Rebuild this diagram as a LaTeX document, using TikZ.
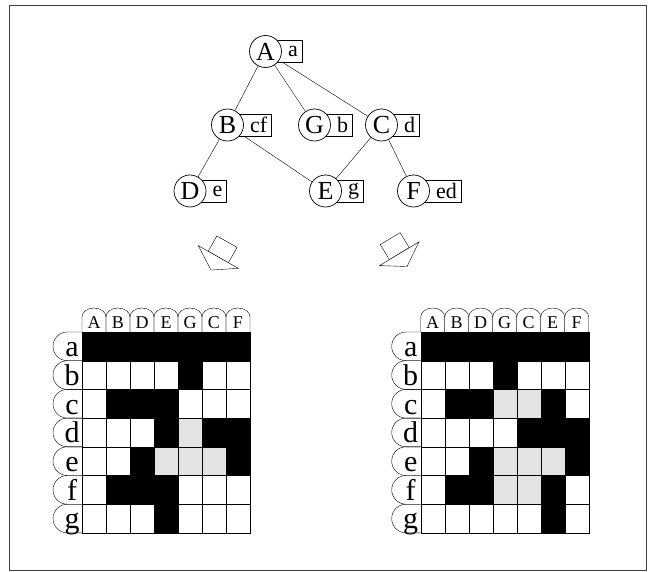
\documentclass[tikz,border=0pt]{standalone}
\usepackage{fontspec}
\setmainfont{Liberation Serif}
\usetikzlibrary{positioning,calc,backgrounds}

\definecolor{shade}{gray}{0.89}

\tikzset{
  cell0/.style={draw, fill=white},
  cell1/.style={draw, fill=black},
  cell2/.style={draw, fill=shade},
  tab/.style={draw},
  colname/.style={anchor=base, inner sep=0pt, font=\fontsize{18}{18}\selectfont},
  rowname/.style={anchor=base, inner sep=0pt, font=\fontsize{30}{30}\selectfont},
  hollow/.style={draw, fill=white, line join=miter},
  pics/fatarrow/.style={code={
    \draw[hollow] (-17.6,-11.6) rectangle (0,11.6);
    \draw[hollow] (0,-23) -- (15,0) -- (0,23) -- cycle;
  }}
}

% #1 name prefix, #2 left edge of the grid, #3 column letters, #4 cell rows
\newcommand\cellchart[4]{%
  \foreach \pat [count=\r from 0] in {#4}
    \foreach \v [count=\c from 0] in \pat
      \draw[cell\v] ({#2+24*\c}, {-332-28.7*\r}) rectangle ++(24,-28.7);
  \foreach \h [count=\c from 0] in {#3} {
    \draw[tab] ({#2+24*\c}, -332) -- ++(0,15)
      arc[start angle=180, end angle=0, x radius=12, y radius=9] -- ++(0,-15);
    \node[colname] (#1-\h) at ({#2+24*\c+12}, -328.5) {\h};
  }
  \foreach \h [count=\r from 0] in {a,...,g} {
    \draw[tab] (#2, {-332-28.7*\r}) -- ++(-14.65,0)
      arc[start angle=90, end angle=270, radius=14.35] -- ++(14.65,0);
    \node[rowname] (#1-\h) at (#2-10, {-332-28.7*\r-24.7}) {\h};
  }
}

\begin{document}
\begin{tikzpicture}[x=1pt, y=1pt, line width=0.7pt, main/.style = {circle, draw, fill=white, minimum size=32pt, inner sep=0pt, font=\fontsize{26}{26}\selectfont}, tag/.style={draw, fill=white, minimum height=22pt, inner xsep=4pt, inner ysep=0pt, font=\fontsize{22}{22}\selectfont, execute at begin node={\hspace{8pt}}}]

\useasboundingbox (0,0) rectangle (648,-572);
\draw[line width=1pt, black!75] (9,-6) rectangle (646,-570);

\node[main] (A) at (265.5,-51.5) {A};
\node[main] (B) at (227.5,-125) {B};
\node[main] (G) at (314.5,-125) {G};
\node[main] (C) at (381.5,-125) {C};
\node[main] (D) at (190,-191) {D};
\node[main] (E) at (325.5,-191) {E};
\node[main] (F) at (413.5,-191) {F};

\begin{pgfonlayer}{background}
\path
    (A) edge (B)
    (A) edge (G)
    (A) edge (C)
    (B) edge (D)
    (B) edge (E)
    (C) edge (E)
    (C) edge (F);
\node[tag] (ta) [right=-6pt of A] {a};
\node[tag] (tb) [right=-6pt of B] {cf};
\node[tag] (tg) [right=-6pt of G] {b};
\node[tag] (tc) [right=-6pt of C] {d};
\node[tag] (td) [right=-6pt of D] {e};
\node[tag] (te) [right=-6pt of E] {g};
\node[tag] (tf) [right=-6pt of F] {ed};
\end{pgfonlayer}

\pic[rotate=240.5] at (218.3,-257) {fatarrow};
\pic[rotate=301] at (399.3,-253.7) {fatarrow};

\cellchart{L}{82}{A,B,D,E,G,C,F}{
  {1,1,1,1,1,1,1}, {0,0,0,0,1,0,0}, {0,1,1,1,0,0,0}, {0,0,0,1,2,1,1},
  {0,0,1,2,2,2,1}, {0,1,1,1,0,0,0}, {0,0,0,1,0,0,0}}
\cellchart{R}{420.7}{A,B,D,G,C,E,F}{
  {1,1,1,1,1,1,1}, {0,0,0,1,0,0,0}, {0,1,1,2,2,1,0}, {0,0,0,0,1,1,1},
  {0,0,1,2,2,2,1}, {0,1,1,2,2,1,0}, {0,0,0,0,0,1,0}}
\end{tikzpicture}
\end{document}
